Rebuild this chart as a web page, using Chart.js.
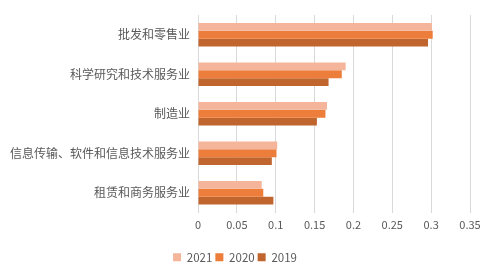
<!DOCTYPE html>
<html>
<head>
<meta charset="utf-8">
<script src="https://cdn.jsdelivr.net/npm/chart.js@4"></script>
<style>
  html, body { margin: 0; padding: 0; background: #fff; }
  #wrap { width: 488px; height: 277px; }
</style>
</head>
<body>
<div id="wrap"><canvas id="chart"></canvas></div>
<script>
var categories = [
  "批发和零售业",
  "科学研究和技术服务业",
  "制造业",
  "信息传输、软件和信息技术服务业",
  "租赁和商务服务业",
];
var values2021 = [0.301, 0.190, 0.166, 0.102, 0.082];
var values2020 = [0.302, 0.185, 0.164, 0.101, 0.084];
var values2019 = [0.296, 0.168, 0.153, 0.095, 0.097];
var xTicks = [0, 0.05, 0.1, 0.15, 0.2, 0.25, 0.3, 0.35];

var colors = {
  y2021: "#F5B59B",
  y2020: "#EC7D3A",
  y2019: "#C1652F",
  text: "#595959",
  grid: "#D9D9D9",
};

var font = "'Noto Sans CJK SC', 'Noto Sans', sans-serif";

new Chart(document.getElementById("chart"), {
  type: "bar",
  data: {
    labels: categories,
    datasets: [
      { label: "2021", data: values2021, backgroundColor: colors.y2021 },
      { label: "2020", data: values2020, backgroundColor: colors.y2020 },
      { label: "2019", data: values2019, backgroundColor: colors.y2019 },
    ],
  },
  options: {
    indexAxis: "y",
    responsive: true,
    maintainAspectRatio: false,
    animation: false,
    categoryPercentage: 0.6,
    barPercentage: 1.0,
    layout: { padding: { top: 15, right: 18, left: 0, bottom: 4 } },
    plugins: {
      legend: {
        position: "bottom",
        labels: {
          color: colors.text,
          font: { family: font, size: 11.5 },
          boxWidth: 8,
          boxHeight: 8,
          padding: 3,
        },
      },
      tooltip: { enabled: false },
    },
    scales: {
      x: {
        min: 0,
        max: 0.35,
        afterBuildTicks: function (axis) {
          axis.ticks = xTicks.map(function (v) { return { value: v }; });
        },
        grid: { color: colors.grid, drawTicks: false },
        border: { display: false },
        ticks: {
          color: colors.text,
          font: { family: font, size: 11 },
          padding: 6,
          callback: function (v) { return String(Math.round(v * 100) / 100); },
        },
        afterFit: function (axis) { axis.height = 36; },
      },
      y: {
        grid: { display: false },
        border: { display: false },
        ticks: {
          color: colors.text,
          font: { family: font, size: 12 },
          padding: 0,
        },
        afterFit: function (axis) { axis.width = 198; },
      },
    },
  },
});
</script>
</body>
</html>
